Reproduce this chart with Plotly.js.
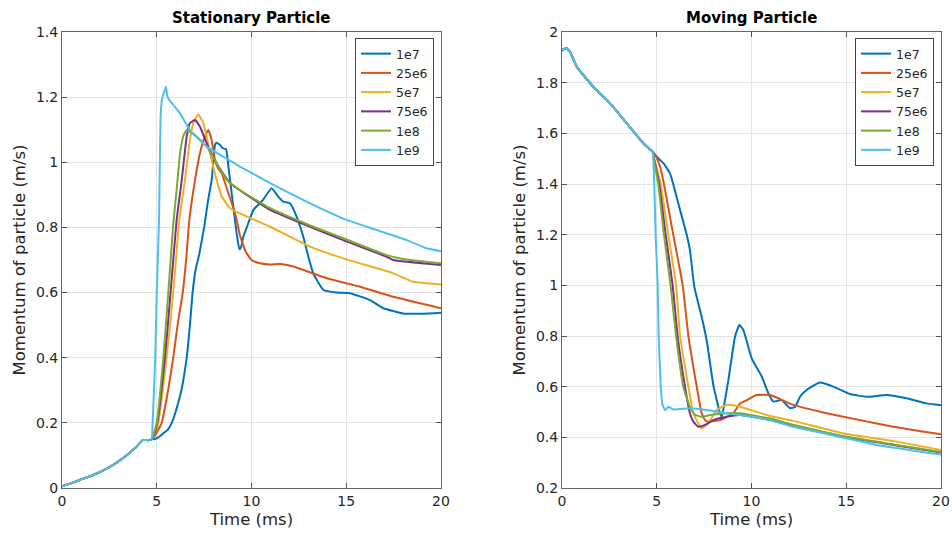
<!DOCTYPE html>
<html>
<head>
<meta charset="utf-8">
<script src="https://cdn.plot.ly/plotly-3.0.1.min.js"></script>
<style>html,body{margin:0;padding:0;background:#fff;}#chart{width:952px;height:539px;}</style>
</head>
<body>
<div id="chart"></div>
<script>
// ---------- data ----------
var seriesNames = ['1e7', '25e6', '5e7', '75e6', '1e8', '1e9'];
var seriesColors = ['#0072BD', '#D95319', '#EDB120', '#7E2F8E', '#77AC30', '#4DBEEE'];

// Stationary particle: shared part before the curves split
var statPreT = [0, 0.5, 1, 1.65, 2.5, 3.4, 3.9, 4.27, 4.6, 4.73];
var statPreV = [0.005, 0.015, 0.026, 0.04, 0.064, 0.1, 0.125, 0.147, 0.147, 0.15];

var stat1e7T = [4.9, 5.2, 5.35, 5.6, 5.79, 6.0, 6.3, 6.58, 6.75, 6.89, 7.05, 7.25, 7.5, 7.7, 7.9, 8.07, 8.16, 8.34, 8.48, 8.66, 8.78, 9.04, 9.22, 9.36, 9.45, 9.57, 9.75, 10.1, 10.6, 11.06, 11.42, 11.68, 12.03, 12.38, 12.73, 13.0, 13.26, 13.79, 14.49, 15.2, 16.25, 16.96, 18.0, 19.0, 20];
var stat1e7V = [0.15, 0.16, 0.168, 0.18, 0.2, 0.235, 0.3, 0.4, 0.5, 0.6, 0.67, 0.72, 0.8, 0.88, 0.946, 1.053, 1.06, 1.053, 1.043, 1.04, 0.987, 0.864, 0.78, 0.733, 0.74, 0.772, 0.80, 0.854, 0.884, 0.92, 0.894, 0.879, 0.874, 0.833, 0.772, 0.71, 0.659, 0.608, 0.60, 0.598, 0.577, 0.552, 0.536, 0.535, 0.538];

var stat25e6T = [4.9, 5.26, 5.6, 5.87, 6.1, 6.37, 6.55, 6.72, 7.02, 7.28, 7.55, 7.72, 7.9, 8.07, 8.25, 8.43, 8.78, 9.04, 9.22, 9.39, 9.7, 10.0, 10.45, 10.98, 11.5, 12.2, 13.97, 15.73, 17.48, 20];
var stat25e6V = [0.16, 0.2, 0.3, 0.4, 0.5, 0.6, 0.7, 0.823, 0.946, 1.028, 1.08, 1.099, 1.068, 1.007, 0.98, 0.966, 0.905, 0.86, 0.823, 0.775, 0.725, 0.70, 0.69, 0.686, 0.688, 0.68, 0.644, 0.618, 0.587, 0.552];

var stat5e7T = [4.85, 5.08, 5.52, 5.87, 6.19, 6.49, 6.75, 6.93, 7.19, 7.46, 7.81, 8.16, 8.43, 8.87, 9.39, 10.98, 13.09, 14.84, 17.48, 18.54, 20];
var stat5e7V = [0.16, 0.2, 0.4, 0.6, 0.823, 0.946, 1.068, 1.12, 1.147, 1.12, 1.028, 0.946, 0.895, 0.859, 0.843, 0.802, 0.741, 0.705, 0.659, 0.633, 0.625];

var stat75e6T = [4.83, 5.03, 5.43, 5.73, 6.05, 6.32, 6.58, 6.75, 7.02, 7.28, 7.64, 8.16, 8.87, 10.98, 13.09, 14.84, 17.13, 17.48, 20];
var stat75e6V = [0.16, 0.2, 0.4, 0.6, 0.823, 0.946, 1.079, 1.12, 1.13, 1.109, 1.058, 0.997, 0.936, 0.854, 0.802, 0.761, 0.71, 0.70, 0.685];

var stat1e8T = [4.8, 5.0, 5.35, 5.61, 5.87, 6.05, 6.23, 6.4, 6.58, 7.11, 7.64, 8.16, 8.69, 9.39, 10.98, 13.09, 14.84, 17.13, 18.0, 20];
var stat1e8V = [0.16, 0.2, 0.4, 0.6, 0.81, 0.915, 1.028, 1.08, 1.099, 1.079, 1.048, 0.997, 0.946, 0.915, 0.859, 0.806, 0.767, 0.715, 0.703, 0.69];

var stat1e9T = [4.78, 4.92, 5.0, 5.12, 5.21, 5.3, 5.45, 5.49, 5.55, 5.61, 5.87, 6.23, 6.75, 7.64, 8.51, 9.39, 10.98, 13.09, 15.02, 16.6, 18.19, 19.24, 20];
var stat1e9V = [0.2, 0.4, 0.6, 0.823, 1.15, 1.2, 1.225, 1.232, 1.205, 1.196, 1.176, 1.15, 1.099, 1.048, 1.017, 0.987, 0.936, 0.874, 0.823, 0.792, 0.761, 0.736, 0.727];

// Moving particle: shared part before the curves split
var movPreT = [0, 0.07, 0.25, 0.42, 0.78, 1.65, 2.53, 3.41, 4.29, 4.64, 4.78];
var movPreV = [1.925, 1.932, 1.936, 1.922, 1.863, 1.784, 1.719, 1.64, 1.561, 1.537, 1.528];

var mov1e7T = [5.0, 5.17, 5.35, 5.7, 5.87, 6.23, 6.58, 6.75, 6.97, 7.17, 7.37, 7.64, 8.0, 8.34, 8.43, 8.6, 8.78, 9.13, 9.36, 9.57, 10.01, 10.54, 10.89, 11.15, 11.59, 12.03, 12.3, 12.56, 12.91, 13.61, 14.32, 15.2, 16.08, 17.13, 18.19, 19.24, 20];
var mov1e7V = [1.508, 1.495, 1.482, 1.442, 1.4, 1.297, 1.2, 1.14, 1.0, 0.935, 0.876, 0.78, 0.6, 0.495, 0.48, 0.547, 0.626, 0.797, 0.843, 0.824, 0.712, 0.64, 0.574, 0.541, 0.547, 0.515, 0.52, 0.56, 0.587, 0.616, 0.60, 0.571, 0.56, 0.567, 0.554, 0.534, 0.527];

var mov25e6T = [4.95, 5.17, 5.38, 5.87, 6.37, 6.67, 7.11, 7.37, 7.55, 7.7, 8.34, 8.69, 9.04, 9.39, 9.75, 10.27, 10.98, 12.2, 13.97, 15.73, 17.48, 20];
var mov25e6V = [1.51, 1.47, 1.4, 1.2, 1.0, 0.8, 0.6, 0.495, 0.468, 0.462, 0.468, 0.481, 0.495, 0.534, 0.547, 0.567, 0.567, 0.528, 0.495, 0.468, 0.442, 0.412];

var mov5e7T = [4.9, 5.21, 5.61, 6.02, 6.23, 6.67, 6.93, 7.37, 7.72, 8.16, 8.69, 9.39, 10.98, 12.2, 15.02, 17.5, 20];
var mov5e7V = [1.49, 1.4, 1.2, 1.0, 0.8, 0.6, 0.495, 0.436, 0.455, 0.508, 0.528, 0.521, 0.484, 0.465, 0.413, 0.385, 0.35];

var mov75e6T = [4.88, 5.13, 5.47, 5.84, 6.1, 6.49, 6.75, 6.93, 7.19, 7.55, 7.99, 8.69, 9.39, 10.98, 12.2, 15.02, 17.5, 20];
var mov75e6V = [1.49, 1.4, 1.2, 1.0, 0.8, 0.6, 0.495, 0.462, 0.442, 0.449, 0.468, 0.481, 0.488, 0.468, 0.447, 0.40, 0.37, 0.34];

var mov1e8T = [4.86, 5.08, 5.38, 5.73, 6.02, 6.4, 6.75, 7.0, 7.37, 7.81, 8.69, 9.39, 10.98, 12.2, 15.02, 17.5, 20];
var mov1e8V = [1.49, 1.4, 1.2, 1.0, 0.8, 0.6, 0.52, 0.49, 0.481, 0.488, 0.495, 0.495, 0.474, 0.45, 0.402, 0.372, 0.342];

var mov1e9T = [4.82, 4.87, 4.94, 5.05, 5.1, 5.21, 5.3, 5.44, 5.5, 5.61, 5.88, 6.75, 7.64, 8.69, 10.01, 10.98, 12.2, 15.02, 16.6, 20];
var mov1e9V = [1.495, 1.4, 1.2, 1.0, 0.8, 0.6, 0.53, 0.508, 0.51, 0.521, 0.51, 0.515, 0.508, 0.495, 0.481, 0.468, 0.442, 0.396, 0.37, 0.332];

var xTickVals = [0, 5, 10, 15, 20];
var xTickText = ['0', '5', '10', '15', '20'];
var statYTickVals = [0, 0.2, 0.4, 0.6, 0.8, 1, 1.2, 1.4];
var statYTickText = ['0', '0.2', '0.4', '0.6', '0.8', '1', '1.2', '1.4'];
var movYTickVals = [0.2, 0.4, 0.6, 0.8, 1, 1.2, 1.4, 1.6, 1.8, 2];
var movYTickText = ['0.2', '0.4', '0.6', '0.8', '1', '1.2', '1.4', '1.6', '1.8', '2'];

var statT = [stat1e7T, stat25e6T, stat5e7T, stat75e6T, stat1e8T, stat1e9T];
var statV = [stat1e7V, stat25e6V, stat5e7V, stat75e6V, stat1e8V, stat1e9V];
var movT = [mov1e7T, mov25e6T, mov5e7T, mov75e6T, mov1e8T, mov1e9T];
var movV = [mov1e7V, mov25e6V, mov5e7V, mov75e6V, mov1e8V, mov1e9V];

// ---------- build ----------
var FONT = 'DejaVu Sans';
var traces = [];
for (var i = 0; i < seriesNames.length; i++) {
  traces.push({
    x: statPreT.concat(statT[i]), y: statPreV.concat(statV[i]),
    type: 'scatter', mode: 'lines', name: seriesNames[i],
    line: {color: seriesColors[i], width: 2, shape: 'spline', smoothing: 0.4},
    xaxis: 'x', yaxis: 'y', legend: 'legend'
  });
}
for (var j = 0; j < seriesNames.length; j++) {
  traces.push({
    x: movPreT.concat(movT[j]), y: movPreV.concat(movV[j]),
    type: 'scatter', mode: 'lines', name: seriesNames[j],
    line: {color: seriesColors[j], width: 2, shape: 'spline', smoothing: 0.4},
    xaxis: 'x2', yaxis: 'y2', legend: 'legend2'
  });
}

var W = 952, H = 539;
function px(x) { return x / W; }
function py(y) { return (H - y) / H; }

function xAxis(dom, anchor) {
  return {
    domain: dom, anchor: anchor, range: [0, 20],
    tickvals: xTickVals, ticktext: xTickText,
    ticks: 'inside', ticklen: 5, tickcolor: '#555', tickwidth: 1,
    showline: true, linecolor: '#666', linewidth: 1, mirror: 'ticks',
    showgrid: true, gridcolor: '#e3e3e3', gridwidth: 1, zeroline: false,
    tickfont: {family: FONT, size: 14, color: '#262626'},
    title: {text: 'Time (ms)', font: {family: FONT, size: 16.5, color: '#262626'}, standoff: 5},
    fixedrange: true
  };
}
function yAxis(dom, anchor, range, tv, tt) {
  return {
    domain: dom, anchor: anchor, range: range,
    tickvals: tv, ticktext: tt,
    ticks: 'inside', ticklen: 5, tickcolor: '#555', tickwidth: 1,
    showline: true, linecolor: '#666', linewidth: 1, mirror: 'ticks',
    showgrid: true, gridcolor: '#e3e3e3', gridwidth: 1, zeroline: false,
    tickfont: {family: FONT, size: 14, color: '#262626'},
    title: {text: 'Momentum of particle (m/s)', font: {family: FONT, size: 16.5, color: '#262626'}, standoff: 6},
    fixedrange: true
  };
}

var yDom = [py(488), py(32)];
var legendStyle = function (xr) {
  return {
    x: px(xr), y: py(38), xanchor: 'right', yanchor: 'top',
    bgcolor: '#ffffff', bordercolor: '#444', borderwidth: 1,
    font: {family: FONT, size: 12.5, color: '#262626'},
    tracegroupgap: 0, itemwidth: 30
  };
};

var layout = {
  width: W, height: H,
  margin: {l: 0, r: 0, t: 0, b: 0},
  paper_bgcolor: '#ffffff', plot_bgcolor: '#ffffff',
  showlegend: true,
  xaxis: xAxis([px(62), px(441)], 'y'),
  yaxis: yAxis(yDom, 'x', [0, 1.4], statYTickVals, statYTickText),
  xaxis2: xAxis([px(562), px(941)], 'y2'),
  yaxis2: yAxis(yDom, 'x2', [0.2, 2], movYTickVals, movYTickText),
  legend: legendStyle(434),
  legend2: legendStyle(934),
  annotations: [
    {text: '<b>Stationary Particle</b>', x: px(251.5), y: py(18), xref: 'paper', yref: 'paper',
     xanchor: 'center', yanchor: 'middle', showarrow: false,
     font: {family: FONT, size: 15, color: '#000'}},
    {text: '<b>Moving Particle</b>', x: px(751.5), y: py(18), xref: 'paper', yref: 'paper',
     xanchor: 'center', yanchor: 'middle', showarrow: false,
     font: {family: FONT, size: 15, color: '#000'}}
  ]
};

Plotly.newPlot('chart', traces, layout, {displayModeBar: false, staticPlot: true});
</script>
</body>
</html>
